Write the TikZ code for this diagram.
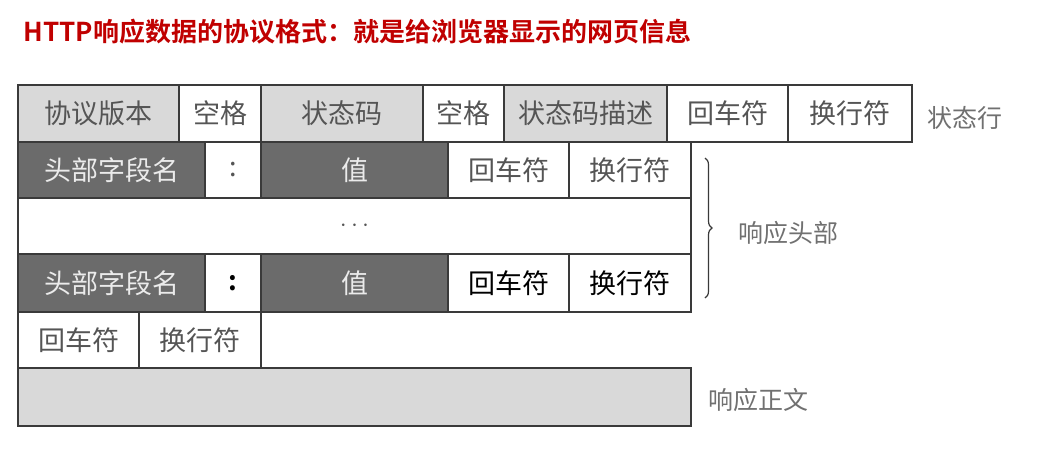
\documentclass[tikz,border=0pt]{standalone}
\usepackage{fontspec}
\setmainfont{Noto Sans CJK SC}[BoldFont={Noto Sans CJK SC Bold}]
\usetikzlibrary{decorations.pathreplacing}
\definecolor{titlered}{HTML}{C00000}
\definecolor{lightcell}{HTML}{D9D9D9}
\definecolor{darkcell}{HTML}{6B6B6B}
\definecolor{cellline}{HTML}{3A3A3A}
\definecolor{celltext}{HTML}{555555}
\definecolor{sidetext}{HTML}{707070}
\begin{document}
\begin{tikzpicture}[x=1pt, y=-1pt,
    cell/.style={draw=cellline, line width=1.5pt, inner sep=0pt, text=celltext, font=\fontsize{27}{27}\selectfont},
    light/.style={cell, fill=lightcell},
    dark/.style={cell, fill=darkcell, text=white!92!black},
    blank/.style={cell, fill=white},
    side/.style={text=sidetext, font=\fontsize{25}{25}\selectfont}]
    \useasboundingbox (0,0) rectangle (1049,448);
    \node[anchor=west, text=titlered, font=\fontsize{26}{26}\selectfont\bfseries] (title) at (20,32) {HTTP响应数据的协议格式：就是给浏览器显示的网页信息};

    \node[light, minimum width=161, minimum height=57] (ver) at (98.5,113.5) {协议版本};
    \node[blank, minimum width=82, minimum height=57] (sp1) at (220,113.5) {空格};
    \node[light, minimum width=162, minimum height=57] (code) at (342,113.5) {状态码};
    \node[blank, minimum width=81, minimum height=57] (sp2) at (463.5,113.5) {空格};
    \node[light, minimum width=163, minimum height=57] (desc) at (585.5,113.5) {状态码描述};
    \node[blank, minimum width=121, minimum height=57] (cr1) at (727.5,113.5) {回车符};
    \node[blank, minimum width=124, minimum height=57] (lf1) at (850,113.5) {换行符};

    \node[dark, minimum width=187, minimum height=56] (name1) at (111.5,170) {头部字段名};
    \node[blank, minimum width=56, minimum height=56] (colon1) at (233,170) {:};
    \node[dark, minimum width=187, minimum height=56] (val1) at (354.5,170) {值};
    \node[blank, minimum width=121, minimum height=56] (cr2) at (508.5,170) {回车符};
    \node[blank, minimum width=122, minimum height=56] (lf2) at (630,170) {换行符};

    \node[blank, minimum width=673, minimum height=56] (more) at (354.5,226) {$\cdots$};

    \node[dark, minimum width=187, minimum height=58] (name2) at (111.5,283) {头部字段名};
    \node[blank, minimum width=56, minimum height=58, text=black] (colon2) at (233,283) {\textbf{:}};
    \node[dark, minimum width=187, minimum height=58] (val2) at (354.5,283) {值};
    \node[blank, minimum width=121, minimum height=58, text=black] (cr3) at (508.5,283) {回车符};
    \node[blank, minimum width=122, minimum height=58, text=black] (lf3) at (630,283) {换行符};

    \node[blank, minimum width=121, minimum height=56] (cr4) at (78.5,340) {回车符};
    \node[blank, minimum width=122, minimum height=56] (lf4) at (200,340) {换行符};

    \node[light, minimum width=673, minimum height=58] (body) at (354.5,397) {};

    \node[side] (statusline) at (965,118) {状态行};
    \node[side] (headers) at (788,233) {响应头部};
    \node[side] (content) at (758,400) {响应正文};

    \coordinate (bracetop) at (705,158);
    \coordinate (bracebot) at (705,298);
    \draw[decorate, decoration={brace, amplitude=7pt}, line width=1.2pt, cellline] (bracetop) -- (bracebot);
\end{tikzpicture}
\end{document}
